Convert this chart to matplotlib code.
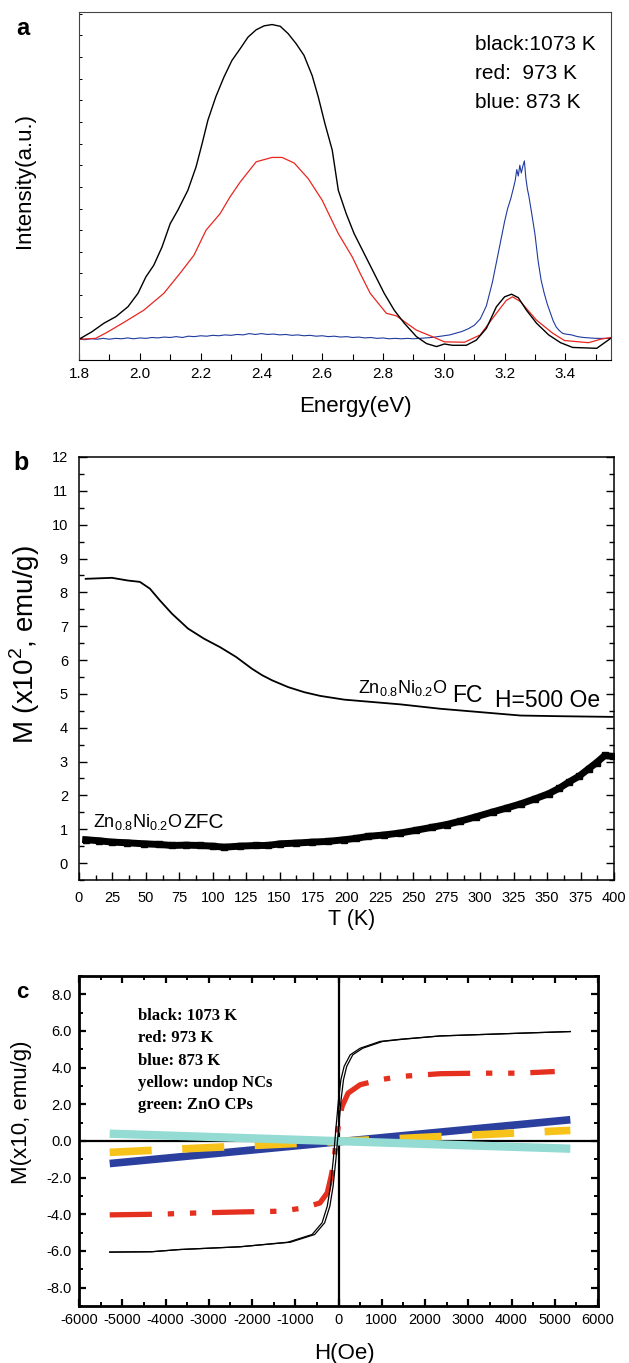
import matplotlib
matplotlib.use("Agg")
import matplotlib.pyplot as plt
from matplotlib.ticker import MultipleLocator

plt.rcParams['font.family'] = ['Liberation Sans', 'DejaVu Sans']
plt.rcParams['mathtext.fontset'] = 'custom'
plt.rcParams['mathtext.rm'] = 'Liberation Sans'
plt.rcParams['axes.unicode_minus'] = False

# ---------------- Panel a data (PL spectra, arbitrary units) ----------------
black_E = [1.800, 1.842, 1.882, 1.921, 1.961, 1.994, 2.020, 2.046, 2.073, 2.100, 2.125, 2.158,
           2.185, 2.205, 2.224, 2.250, 2.277, 2.303, 2.330, 2.356, 2.383, 2.409, 2.435, 2.462,
           2.488, 2.514, 2.540, 2.567, 2.587, 2.609, 2.633, 2.653, 2.679, 2.705, 2.738, 2.771,
           2.804, 2.837, 2.870, 2.910, 2.943, 2.976, 3.002, 3.028, 3.074, 3.107, 3.140, 3.173,
           3.200, 3.223, 3.245, 3.272, 3.305, 3.345, 3.384, 3.424, 3.503, 3.549]
black_I = [48, 65, 85, 100, 123, 154, 192, 219, 261, 315, 346, 392,
           446, 500, 554, 608, 654, 692, 719, 746, 763, 772, 775, 771,
           754, 731, 704, 657, 608, 546, 485, 392, 338, 292, 246, 200,
           154, 115, 85, 54, 38, 31, 37, 34, 34, 46, 73, 123,
           146, 152, 144, 115, 85, 58, 40, 29, 27, 50]

red_E = [1.800, 1.855, 1.895, 1.948, 2.013, 2.079, 2.132, 2.178, 2.218, 2.264, 2.297, 2.330,
         2.383, 2.435, 2.468, 2.508, 2.554, 2.600, 2.626, 2.653, 2.699, 2.725, 2.758, 2.811,
         2.844, 2.910, 2.962, 3.002, 3.068, 3.120, 3.173, 3.206, 3.226, 3.252, 3.305, 3.358,
         3.397, 3.476, 3.516, 3.549]
red_I = [48, 50, 65, 87, 115, 154, 200, 242, 300, 338, 377, 411,
         458, 468, 468, 455, 419, 369, 331, 292, 238, 200, 154, 108,
         102, 69, 54, 42, 41, 58, 108, 138, 146, 135, 92, 62,
         45, 40, 48, 52]

blue_E = [1.80, 1.82, 1.84, 1.86, 1.88, 1.90, 1.92, 1.94, 1.96, 1.98, 2.00, 2.02, 2.04, 2.06,
          2.08, 2.10, 2.12, 2.14, 2.16, 2.18, 2.20, 2.22, 2.24, 2.26, 2.28, 2.30, 2.32, 2.34,
          2.36, 2.38, 2.40, 2.42, 2.44, 2.46, 2.48, 2.50, 2.52, 2.54, 2.56, 2.58, 2.60, 2.62,
          2.64, 2.66, 2.68, 2.70, 2.72, 2.74, 2.76, 2.78, 2.80, 2.82, 2.84, 2.86, 2.88, 2.90,
          2.92, 2.94, 2.96, 2.98, 3.00, 3.02, 3.04, 3.06, 3.08, 3.10, 3.12, 3.14, 3.16, 3.18,
          3.20, 3.21, 3.22, 3.23, 3.235, 3.24, 3.245, 3.25, 3.255, 3.26, 3.265, 3.27, 3.275,
          3.28, 3.29, 3.30, 3.31, 3.32, 3.33, 3.34, 3.35, 3.36, 3.37, 3.38, 3.39, 3.40, 3.42,
          3.44, 3.46, 3.48, 3.50, 3.52, 3.55]
blue_I = [48, 47, 49, 48, 50, 48, 50, 49, 51, 49, 51, 50, 52, 51,
          53, 52, 54, 52, 55, 54, 56, 55, 57, 56, 58, 57, 59, 58,
          61, 59, 61, 59, 60, 58, 59, 57, 58, 56, 57, 55, 56, 54,
          55, 53, 54, 52, 53, 51, 52, 50, 51, 49, 50, 49, 50, 49,
          50, 51, 52, 54, 56, 58, 62, 66, 72, 80, 95, 125, 180, 250,
          320, 350, 372, 400, 415, 440, 425, 450, 432, 448, 460, 420, 395,
          378, 335, 290, 230, 185, 155, 130, 110, 90, 76, 68, 62, 60, 58,
          54, 52, 51, 50, 50, 50]

a_labels = ["black:1073 K", "red:  973 K", "blue: 873 K"]

# ---------------- Panel b data ----------------
fc_T = [5, 24.6, 36.5, 45.5, 53, 60.5, 69.5, 81.5, 93.5, 105.5, 117.5, 129.4, 137, 144.4,
        156.4, 168.4, 180.4, 198.3, 210.3, 240.3, 270.2, 300.2, 330.2, 360.1, 399]
fc_M = [8.40, 8.43, 8.35, 8.31, 8.11, 7.76, 7.37, 6.93, 6.63, 6.38, 6.09, 5.74, 5.55, 5.40,
        5.20, 5.05, 4.94, 4.83, 4.79, 4.69, 4.56, 4.46, 4.36, 4.34, 4.32]
zfc_T = [5, 15, 24.6, 36, 48.5, 60, 69.5, 80, 90.5, 100, 108.5, 120, 132.4, 141, 150.4, 162,
         174.4, 186, 198.3, 207, 216.3, 228, 240.3, 252, 264.2, 275, 285.2, 297, 309.2, 320,
         330.2, 341, 351.1, 359, 366.1, 374, 381.1, 387, 393.1, 399]
zfc_M = [0.69, 0.66, 0.62, 0.60, 0.57, 0.55, 0.52, 0.53, 0.52, 0.50, 0.47, 0.50, 0.52, 0.52,
         0.57, 0.59, 0.62, 0.64, 0.69, 0.73, 0.79, 0.83, 0.89, 0.97, 1.06, 1.14, 1.24, 1.37,
         1.51, 1.63, 1.75, 1.90, 2.05, 2.21, 2.39, 2.57, 2.79, 2.97, 3.18, 3.15]

# ---------------- Panel c data ----------------
blk_up_H = [5360, 4200, 2350, 1430, 960, 500, 270, 130, 55, 0, -55, -120, -185, -260,
            -380, -610, -1170, -2280, -3670, -4320, -5290]
blk_up_M = [5.97, 5.88, 5.73, 5.55, 5.43, 5.06, 4.70, 4.07, 3.34, 2.25, 0.80, -1.00, -2.47,
            -3.56, -4.46, -5.10, -5.52, -5.77, -5.92, -6.04, -6.06]
blk_lo_H = [-5290, -4320, -3670, -2280, -1110, -550, -320, -200, -125, -60, 5, 60, 115, 190,
            330, 560, 1020, 1490, 2350, 4200, 5360]
blk_lo_M = [-6.06, -6.04, -5.92, -5.77, -5.52, -5.10, -4.46, -3.56, -2.47, -1.00, 0.80,
            2.25, 3.34, 4.07, 4.70, 5.06, 5.43, 5.55, 5.73, 5.88, 5.97]
red_H = [-5290, -4130, -3200, -2280, -1350, -800, -430, -260, -170, -100, -55, 20, 83, 222,
         500, 960, 1430, 2350, 3280, 4200, 5000]
red_M = [-4.03, -3.99, -3.92, -3.87, -3.83, -3.65, -3.38, -2.83, -1.92, -1.02, 0.07, 1.16,
         1.89, 2.61, 3.07, 3.34, 3.52, 3.67, 3.70, 3.70, 3.79]
blue_H = [-5290, 5360]
blue_M = [-1.23, 1.16]
yellow_H = [-5290, 5360]
yellow_M = [-0.62, 0.58]
green_H = [-5290, 5360]
green_M = [0.40, -0.42]
c_labels = ["black: 1073 K", "red: 973 K", "blue: 873 K", "yellow: undop NCs", "green: ZnO CPs"]

W, H = 629, 1363
fig = plt.figure(figsize=(W / 100, H / 100), dpi=100)


def ax_px(l, t, r, b):
    return fig.add_axes([l / W, 1 - b / H, (r - l) / W, (b - t) / H])


def ftext(x, y, s, **kw):
    fig.text(x / W, 1 - y / H, s, va='baseline', **kw)


# ================= Panel a =================
ax = ax_px(79, 12, 611, 360)
ax.plot(blue_E, blue_I, color='#1f3a9e', lw=0.8)
ax.plot(red_E, red_I, color='#e8261f', lw=0.9)
ax.plot(black_E, black_I, color='black', lw=1.0)
ax.set_xlim(1.8, 3.55)
ax.set_ylim(0, 804)
ax.xaxis.set_minor_locator(MultipleLocator(0.1))
ax.yaxis.set_major_locator(MultipleLocator(50))
ax.set_xticks([1.8, 2.0, 2.2, 2.4, 2.6, 2.8, 3.0, 3.2, 3.4])
ax.set_xticklabels(["1.8", "2.0", "2.2", "2.4", "2.6", "2.8", "3.0", "3.2", "3.4"])
ax.tick_params(axis='x', which='major', direction='in', length=5, width=0.8, labelsize=11, pad=5)
ax.tick_params(axis='x', which='minor', direction='in', length=4, width=0.8)
ax.tick_params(axis='y', which='major', direction='in', length=2.5, width=0.7, labelleft=False)
for s in ax.spines.values():
    s.set_linewidth(0.8)
    s.set_color('#444444')
ax.spines['bottom'].set_color('black')
ax.set_xlabel("Energy(eV)", fontsize=16, va='baseline')
ax.xaxis.set_label_coords(0.519, -0.1486)
ax.set_ylabel("Intensity(a.u.)", fontsize=16, va='center')
ax.yaxis.set_label_coords(-0.103, 0.517)
for i, s in enumerate(a_labels):
    ftext(475, 50 + 29 * i, s, fontsize=15)
ftext(16, 35, "a", fontsize=17, fontweight='bold')

# ================= Panel b =================
ax = ax_px(79, 457, 614, 880)
ax.plot(fc_T, fc_M, color='black', lw=1.3)
ax.plot(zfc_T, zfc_M, color='black', lw=5, marker='s', markersize=5)
ax.set_xlim(0, 400)
ax.set_ylim(-0.5, 12)
ax.xaxis.set_major_locator(MultipleLocator(25))
ax.xaxis.set_minor_locator(MultipleLocator(12.5))
ax.yaxis.set_minor_locator(MultipleLocator(0.5))
ax.set_yticks(list(range(0, 13)))
ax.tick_params(which='major', direction='in', length=6, width=1.0, labelsize=10.5, pad=8,
               right=True)
ax.tick_params(which='minor', direction='in', length=3.5, width=1.0, right=True)
for s in ax.spines.values():
    s.set_linewidth(1.1)
ax.set_xlabel("T (K)", fontsize=15.5, va='baseline')
ax.xaxis.set_label_coords(0.51, -0.106)
ax.set_ylabel(r"M (x10$^{\mathregular{2}}$, emu/g)", fontsize=20, va='center')
ax.yaxis.set_label_coords(-0.101, 0.556)
ftext(358, 693, r"$\mathregular{Zn_{0.8}Ni_{0.2}O}$", fontsize=13)
ftext(452, 702, "FC", fontsize=16.5)
ftext(495, 707, "H=500 Oe", fontsize=16.5)
ftext(93, 827, r"$\mathregular{Zn_{0.8}Ni_{0.2}O}$", fontsize=13)
ftext(183, 828, "ZFC", fontsize=15)
ftext(13, 470, "b", fontsize=18, fontweight='bold')

# ================= Panel c =================
ax = ax_px(79, 976, 598, 1306)
ax.axhline(0, color='black', lw=1.6, zorder=1.5)
ax.axvline(0, color='black', lw=1.6, zorder=1.5)
ax.plot(blue_H, blue_M, color='#2b3f9e', lw=5.5, solid_capstyle='butt', zorder=2)
ax.plot(yellow_H, yellow_M, color='#f7c31a', lw=5.5, dashes=(5.5, 4), dash_capstyle='butt', zorder=2.1)
ax.plot(green_H, green_M, color='#93dbd3', lw=6, solid_capstyle='butt', zorder=2.2)
ax.plot(red_H, red_M, color='#e5301f', lw=3.8, dashes=(8, 3, 1.2, 3, 1.2, 3),
        dash_capstyle='butt', zorder=2.5)
ax.plot(blk_up_H, blk_up_M, color='black', lw=0.9, zorder=3)
ax.plot(blk_lo_H, blk_lo_M, color='black', lw=0.9, zorder=3)
ax.set_xlim(-6000, 6000)
ax.set_ylim(-9, 9)
ax.xaxis.set_minor_locator(MultipleLocator(500))
ax.set_yticks([-8, -6, -4, -2, 0, 2, 4, 6, 8])
ax.set_yticklabels(["-8.0", "-6.0", "-4.0", "-2.0", "0.0", "2.0", "4.0", "6.0", "8.0"])
ax.yaxis.set_minor_locator(MultipleLocator(1))
ax.set_xticks(list(range(-6000, 6001, 1000)))
ax.set_xticklabels([str(v) for v in range(-6000, 6001, 1000)])
ax.tick_params(which='major', direction='in', length=5, width=1.6, labelsize=10.5, pad=5,
               top=True, right=True)
ax.tick_params(which='minor', direction='in', length=3, width=1.4, top=True, right=True)
for s in ax.spines.values():
    s.set_linewidth(2.0)
ax.set_xlabel("H(Oe)", fontsize=16, va='baseline')
ax.xaxis.set_label_coords(0.511, -0.161)
ax.set_ylabel("M(x10, emu/g)", fontsize=16, va='center')
ax.yaxis.set_label_coords(-0.110, 0.588)
for i, s in enumerate(c_labels):
    ftext(138, 1020 + 22.3 * i, s, fontsize=12, fontweight='bold',
          family=['Liberation Serif', 'DejaVu Serif'])
ftext(16, 998, "c", fontsize=16, fontweight='bold')

fig.savefig("out.png", dpi=100)
